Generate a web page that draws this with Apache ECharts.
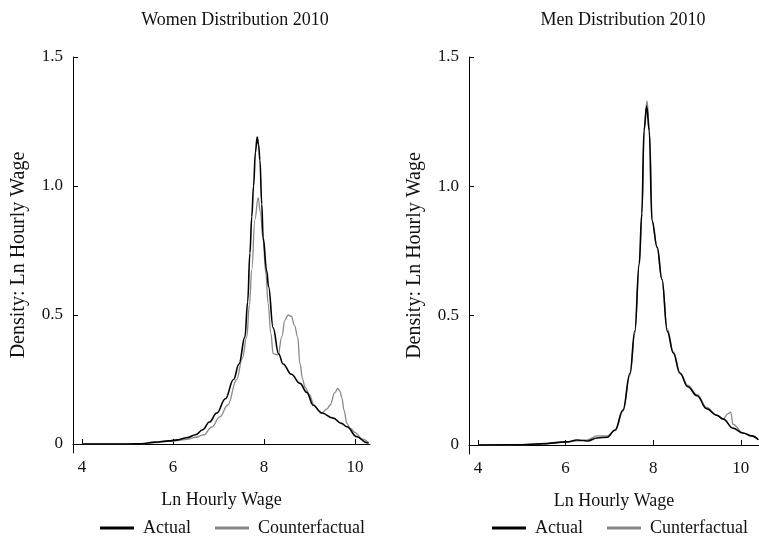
<!DOCTYPE html>
<html>
<head>
<meta charset="utf-8">
<script src="https://cdn.jsdelivr.net/npm/echarts@6/dist/echarts.min.js"></script>
<style>
  html, body { margin: 0; padding: 0; background: #fff; }
  #main { width: 759px; height: 542px; }
</style>
</head>
<body>
<div id="main"></div>
<script>
// women, actual density
var womenActX = [4.0, 4.5, 5.0, 5.3, 5.6, 5.9, 6.1, 6.3, 6.5, 6.65, 6.8, 6.96, 7.15, 7.33, 7.45, 7.58, 7.64, 7.69, 7.73, 7.77, 7.81, 7.85, 7.88, 7.91, 7.95, 7.98, 8.06, 8.1, 8.2, 8.32, 8.42, 8.6, 8.79, 8.94, 9.08, 9.27, 9.52, 9.7, 9.82, 10.04, 10.26, 10.3];
var womenActY = [0, 0, 0, 0.001, 0.007, 0.012, 0.016, 0.024, 0.036, 0.055, 0.085, 0.12, 0.175, 0.25, 0.31, 0.415, 0.55, 0.74, 0.88, 1.0, 1.13, 1.19, 1.16, 1.10, 0.93, 0.80, 0.67, 0.61, 0.45, 0.35, 0.31, 0.27, 0.235, 0.20, 0.15, 0.12, 0.10, 0.08, 0.067, 0.028, 0.005, 0.004];

// women, counterfactual density
var womenCfX = [4.0, 5.0, 5.3, 5.6, 5.9, 6.1, 6.3, 6.5, 6.67, 6.85, 7.03, 7.2, 7.4, 7.52, 7.62, 7.68, 7.73, 7.8, 7.87, 7.92, 7.98, 8.04, 8.09, 8.15, 8.2, 8.31, 8.39, 8.46, 8.53, 8.6, 8.67, 8.74, 8.79, 8.85, 8.9, 9.0, 9.1, 9.2, 9.27, 9.38, 9.45, 9.56, 9.62, 9.67, 9.71, 9.76, 9.82, 9.9, 10.0, 10.15, 10.3];
var womenCfY = [0, 0, 0.001, 0.005, 0.010, 0.013, 0.018, 0.026, 0.035, 0.065, 0.105, 0.15, 0.25, 0.33, 0.415, 0.54, 0.675, 0.87, 0.955, 0.90, 0.79, 0.66, 0.545, 0.43, 0.35, 0.345, 0.415, 0.48, 0.50, 0.495, 0.46, 0.415, 0.31, 0.25, 0.22, 0.19, 0.15, 0.13, 0.12, 0.135, 0.15, 0.20, 0.215, 0.205, 0.18, 0.13, 0.08, 0.06, 0.045, 0.02, 0.005];

// men, actual density
var menActX = [4.0, 5.0, 5.42, 6.03, 6.26, 6.4, 6.5, 6.72, 6.95, 7.13, 7.31, 7.47, 7.58, 7.68, 7.74, 7.79, 7.85, 7.91, 7.97, 8.09, 8.2, 8.32, 8.46, 8.61, 8.79, 9.0, 9.22, 9.45, 9.6, 9.82, 10.05, 10.25, 10.4];
var menActY = [0, 0.001, 0.004, 0.012, 0.019, 0.017, 0.015, 0.027, 0.030, 0.058, 0.135, 0.277, 0.44, 0.70, 0.895, 1.215, 1.31, 1.215, 0.87, 0.765, 0.64, 0.44, 0.355, 0.277, 0.225, 0.19, 0.14, 0.115, 0.10, 0.065, 0.046, 0.035, 0.02];

// men, counterfactual density
var menCfX = [4.0, 5.0, 5.42, 6.03, 6.26, 6.5, 6.72, 6.95, 7.13, 7.31, 7.47, 7.58, 7.68, 7.74, 7.8, 7.86, 7.92, 7.98, 8.09, 8.2, 8.32, 8.46, 8.61, 8.79, 9.0, 9.22, 9.45, 9.6, 9.7, 9.77, 9.82, 10.05, 10.25, 10.4];
var menCfY = [0, 0.001, 0.004, 0.011, 0.016, 0.02, 0.035, 0.035, 0.055, 0.13, 0.27, 0.43, 0.69, 0.88, 1.23, 1.33, 1.2, 0.86, 0.76, 0.64, 0.45, 0.36, 0.28, 0.23, 0.195, 0.145, 0.115, 0.10, 0.12, 0.127, 0.08, 0.046, 0.035, 0.02];

var xTicks = [4, 6, 8, 10];
var yTicks = [0, 0.5, 1, 1.5];
var yTickText = { 0: '0', 0.5: '0.5', 1: '1.0', 1.5: '1.5' };

var FONT = 'Liberation Serif';

var pairs = function (xs, ys) {
    return xs.map(function (x, i) { return [x, ys[i]]; });
};

var makeX = function (idx, min, max) {
    return {
        type: 'value', gridIndex: idx, min: min, max: max,
        name: 'Ln Hourly Wage', nameLocation: 'middle', nameGap: 38,
        nameTextStyle: { fontFamily: FONT, fontSize: 18, color: '#111' },
        axisLine: { show: true, lineStyle: { color: '#000', width: 1 } },
        axisTick: { show: true, inside: true, length: 5, customValues: xTicks, lineStyle: { color: '#000' } },
        axisLabel: { customValues: xTicks, margin: 6, fontFamily: FONT, fontSize: 17, color: '#111' },
        splitLine: { show: false }
    };
};

var makeY = function (idx) {
    return {
        type: 'value', gridIndex: idx, min: -0.035, max: 1.5,
        name: 'Density: Ln Hourly Wage', nameLocation: 'middle', nameGap: 44,
        nameTextStyle: { fontFamily: FONT, fontSize: 20, color: '#111' },
        axisLine: { show: true, lineStyle: { color: '#000', width: 1 } },
        axisTick: { show: true, inside: true, length: 5, customValues: yTicks, lineStyle: { color: '#000' } },
        axisLabel: {
            customValues: yTicks, margin: 10, fontFamily: FONT, fontSize: 17, color: '#111',
            formatter: function (v) { return yTickText[v] !== undefined ? yTickText[v] : String(v); }
        },
        splitLine: { show: false }
    };
};

var line = function (name, idx, data, color, width) {
    return {
        name: name, type: 'line', xAxisIndex: idx, yAxisIndex: idx,
        data: data, showSymbol: false, smooth: 0.4, smoothMonotone: 'x',
        lineStyle: { color: color, width: width }, itemStyle: { color: color },
        z: color === '#000' ? 3 : 2
    };
};

var legendText = { fontFamily: FONT, fontSize: 18, color: '#111', padding: [0, 0, 0, 4] };

var myChart = echarts.init(document.getElementById('main'));

var option = {
    animation: false,
    backgroundColor: '#fff',
    title: [
        { text: 'Women Distribution 2010', left: 230, top: 6, textAlign: 'center',
          textStyle: { fontFamily: FONT, fontSize: 18, fontWeight: 'normal', color: '#111' } },
        { text: 'Men Distribution 2010', left: 618, top: 6, textAlign: 'center',
          textStyle: { fontFamily: FONT, fontSize: 18, fontWeight: 'normal', color: '#111' } }
    ],
    legend: [
        { data: ['Actual', 'Counterfactual'], left: 95, top: 514, itemWidth: 34, itemHeight: 3,
          itemGap: 24, icon: 'rect', textStyle: legendText },
        { data: ['Actual', 'Cunterfactual'], left: 487, top: 514, itemWidth: 34, itemHeight: 3,
          itemGap: 24, icon: 'rect', textStyle: legendText }
    ],
    grid: [
        { left: 73, top: 57, width: 297, height: 396 },
        { left: 469, top: 57, width: 290, height: 397 }
    ],
    xAxis: [makeX(0, 3.8, 10.33), makeX(1, 3.795, 10.415)],
    yAxis: [makeY(0), makeY(1)],
    series: [
        line('Counterfactual', 0, pairs(womenCfX, womenCfY), '#888', 1.3),
        line('Actual', 0, pairs(womenActX, womenActY), '#000', 1.6),
        line('Cunterfactual', 1, pairs(menCfX, menCfY), '#888', 1.3),
        line('Actual', 1, pairs(menActX, menActY), '#000', 1.6)
    ]
};

myChart.setOption(option);
</script>
</body>
</html>
